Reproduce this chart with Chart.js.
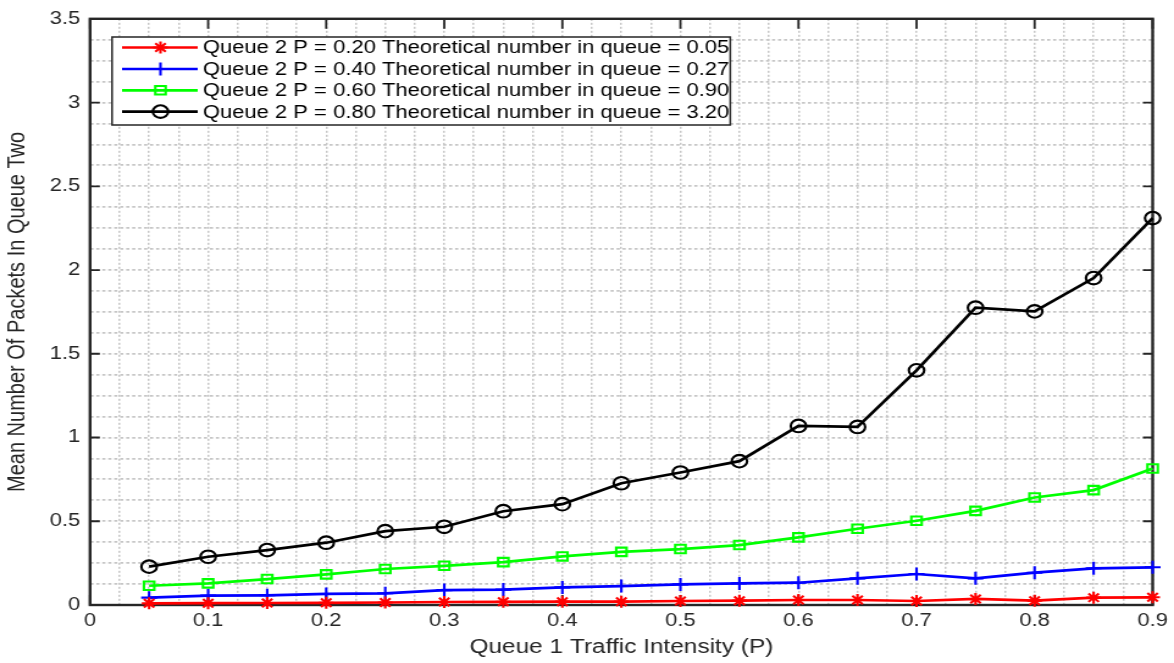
<!DOCTYPE html>
<html><head><meta charset="utf-8">
<script src="https://cdn.jsdelivr.net/npm/chart.js@4.4.1/dist/chart.umd.min.js"></script>
<style>
html,body{margin:0;padding:0;background:#fff;overflow:hidden;}
#wrap{position:relative;width:962px;height:663px;transform:scaleX(1.2204);transform-origin:0 0;}
</style></head><body>
<div id="wrap"><canvas id="c"></canvas></div>
<script>
// ---- data ----
const xValues = [0.05,0.10,0.15,0.20,0.25,0.30,0.35,0.40,0.45,0.50,0.55,0.60,0.65,0.70,0.75,0.80,0.85,0.90];
const queueP020 = [0.010,0.011,0.012,0.013,0.015,0.018,0.019,0.020,0.020,0.024,0.026,0.030,0.030,0.024,0.036,0.026,0.044,0.046];
const queueP040 = [0.044,0.056,0.058,0.066,0.070,0.089,0.092,0.105,0.113,0.123,0.129,0.133,0.159,0.185,0.159,0.193,0.219,0.225];
const queueP060 = [0.115,0.129,0.155,0.183,0.215,0.234,0.256,0.290,0.317,0.334,0.358,0.404,0.455,0.503,0.562,0.642,0.686,0.815];
const queueP080 = [0.229,0.288,0.328,0.372,0.441,0.467,0.560,0.602,0.727,0.791,0.859,1.069,1.063,1.401,1.775,1.753,1.952,2.310];
const seriesLabels = [
  'Queue 2 P = 0.20 Theoretical number in queue = 0.05',
  'Queue 2 P = 0.40 Theoretical number in queue = 0.27',
  'Queue 2 P = 0.60 Theoretical number in queue = 0.90',
  'Queue 2 P = 0.80 Theoretical number in queue = 3.20'
];
const xTickLabels = ['0','0.1','0.2','0.3','0.4','0.5','0.6','0.7','0.8','0.9'];
const yTickLabels = ['0','0.5','1','1.5','2','2.5','3','3.5'];
const xTitle = 'Queue 1 Traffic Intensity (P)';
const yTitle = 'Mean Number Of Packets In Queue Two';

const FONT = "'Liberation Sans', Arial, Helvetica, sans-serif";
const xMajor = xTickLabels.map(Number);
const yMajor = yTickLabels.map(Number);
const labelFor = (v, arr, labels) => { const i = arr.findIndex(m => Math.abs(m - v) < 1e-9); return i >= 0 ? labels[i] : ''; };
const pts = ys => xValues.map((x, i) => ({x, y: ys[i]}));

const styles = [
  {color:'#ff0000', pointStyle:'star',   radius:6,   fill:'#ff0000'},
  {color:'#0000ff', pointStyle:'cross',  radius:6.5, fill:'#0000ff'},
  {color:'#00ff00', pointStyle:'rect',   radius:6,   fill:'rgba(0,0,0,0)'},
  {color:'#000000', pointStyle:'circle', radius:6.3, fill:'rgba(0,0,0,0)'}
];
const allSeries = [queueP020, queueP040, queueP060, queueP080];

const datasets = allSeries.map((s, i) => ({
  label: seriesLabels[i],
  data: pts(s),
  borderColor: styles[i].color,
  backgroundColor: styles[i].fill,
  borderWidth: 2.7,
  pointStyle: styles[i].pointStyle,
  pointRadius: styles[i].radius,
  pointBorderWidth: 2.1,
  pointBorderColor: styles[i].color,
  pointBackgroundColor: styles[i].fill,
  pointHoverRadius: styles[i].radius,
  tension: 0,
  fill: false,
  clip: false
}));

const framePlugin = {
  id: 'frame',
  beforeDatasetsDraw(chart) {
    const {ctx, chartArea: a, scales: {x, y}} = chart;
    ctx.save();
    ctx.strokeStyle = '#262626';
    ctx.lineWidth = 1.8;
    ctx.beginPath();
    xMajor.forEach(v => {
      const px = x.getPixelForValue(v);
      ctx.moveTo(px, a.bottom); ctx.lineTo(px, a.bottom - 10);
      ctx.moveTo(px, a.top); ctx.lineTo(px, a.top + 10);
    });
    yMajor.forEach(v => {
      const py = y.getPixelForValue(v);
      ctx.moveTo(a.left, py); ctx.lineTo(a.left + 8, py);
      ctx.moveTo(a.right, py); ctx.lineTo(a.right - 8, py);
    });
    ctx.stroke();
    ctx.lineWidth = 2.4;
    ctx.strokeRect(a.left, a.top, a.right - a.left, a.bottom - a.top);
    ctx.restore();
  }
};

function drawMarker(ctx, st, cx, cy) {
  ctx.save();
  ctx.strokeStyle = st.color; ctx.fillStyle = st.fill; ctx.lineWidth = 2.1;
  if (Chart.helpers && Chart.helpers.drawPoint) {
    Chart.helpers.drawPoint(ctx, {pointStyle: st.pointStyle, rotation: 0, radius: st.radius, borderWidth: 2.1}, cx, cy);
  }
  ctx.restore();
}

const legendPlugin = {
  id: 'insideLegend',
  afterDatasetsDraw(chart) {
    const {ctx} = chart;
    const L = 91.8, T = 37, R = 598.4, B = 125;
    ctx.save();
    ctx.fillStyle = '#ffffff';
    ctx.fillRect(L, T, R - L, B - T);
    ctx.strokeStyle = '#262626'; ctx.lineWidth = 1.5;
    ctx.strokeRect(L, T, R - L, B - T);
    const rows = [47.5, 69, 90.3, 111.6];
    ctx.font = '18px ' + FONT;
    ctx.textBaseline = 'middle';
    seriesLabels.forEach((lab, i) => {
      const st = styles[i], yy = rows[i];
      ctx.strokeStyle = st.color; ctx.lineWidth = 2.7;
      ctx.beginPath(); ctx.moveTo(100, yy); ctx.lineTo(162, yy); ctx.stroke();
      drawMarker(ctx, st, 131.5, yy);
      ctx.fillStyle = '#000000';
      ctx.fillText(lab, 166.3, yy + 1);
    });
    ctx.restore();
  }
};

new Chart(document.getElementById('c'), {
  type: 'line',
  data: {datasets},
  plugins: [framePlugin, legendPlugin],
  options: {
    responsive: true,
    maintainAspectRatio: false,
    animation: false,
    events: [],
    layout: {padding: {top: 18, right: 11, bottom: 0, left: 0}},
    plugins: {legend: {display: false}, tooltip: {enabled: false}},
    scales: {
      x: {
        type: 'linear', min: 0, max: 0.9,
        afterFit: s => { s.height = 58; },
        ticks: {
          stepSize: 0.025, autoSkip: false, maxRotation: 0, padding: 5,
          color: '#262626', font: {family: FONT, size: 18},
          callback: v => labelFor(v, xMajor, xTickLabels)
        },
        grid: {color: '#c6c6c6', lineWidth: 1.5, drawTicks: false},
        border: {display: false, dash: [2, 2]},
        title: {display: true, text: xTitle, color: '#262626', font: {family: FONT, size: 20}, padding: {top: 2, bottom: 4}}
      },
      y: {
        type: 'linear', min: 0, max: 3.5,
        afterFit: s => { s.width = 73.8; },
        ticks: {
          stepSize: 0.125, autoSkip: false, padding: 8,
          color: '#262626', font: {family: FONT, size: 18},
          callback: v => labelFor(v, yMajor, yTickLabels)
        },
        grid: {color: '#c6c6c6', lineWidth: 1.8, drawTicks: false},
        border: {display: false, dash: [2.6, 2.3]},
        title: {display: true, text: yTitle, color: '#262626', font: {family: FONT, size: 20}, padding: {top: 2, bottom: 2}}
      }
    }
  }
});
</script>
</body></html>
